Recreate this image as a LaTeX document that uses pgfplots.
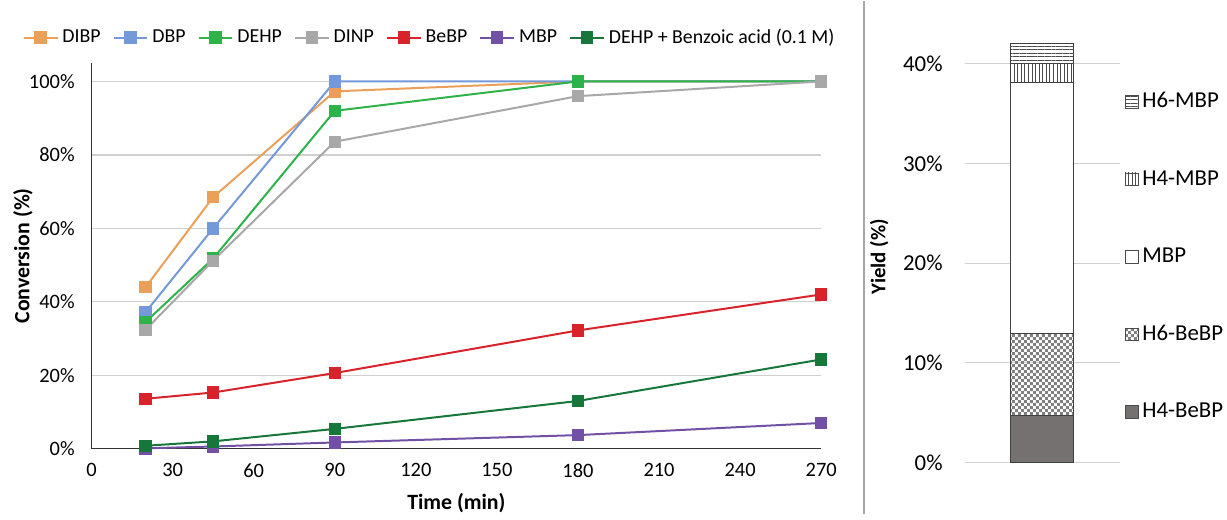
\documentclass[border=0pt]{standalone}
\usepackage{pgfplots}
\pgfplotsset{compat=1.18}
\usepackage{fontspec}
\setmainfont{Carlito}
\usetikzlibrary{patterns,patterns.meta}
\definecolor{cDIBP}{HTML}{EBA05A}
\definecolor{cDBP}{HTML}{7499D8}
\definecolor{cDEHP}{HTML}{2DB34A}
\definecolor{cDINP}{HTML}{A8A8A8}
\definecolor{cBeBP}{HTML}{D9232B}
\definecolor{cMBP}{HTML}{7150A6}
\definecolor{cBA}{HTML}{17763A}
\definecolor{gridc}{HTML}{D0D0D0}
\definecolor{dkgray}{HTML}{767171}
\pgfdeclarepatternformonly{mycheck}{\pgfqpoint{0bp}{0bp}}{\pgfqpoint{3bp}{3bp}}{\pgfqpoint{3bp}{3bp}}{%
  \pgfpathrectangle{\pgfqpoint{0bp}{0bp}}{\pgfqpoint{1.5bp}{1.5bp}}%
  \pgfpathrectangle{\pgfqpoint{1.5bp}{1.5bp}}{\pgfqpoint{1.5bp}{1.5bp}}%
  \pgfusepath{fill}}
\begin{document}
\begin{tikzpicture}
\path (0,0) rectangle (613.5bp,258bp);
\draw[gray!70, line width=0.8bp] (434bp,0) -- (434bp,258bp);
\begin{axis}[
  at={(46bp,33bp)}, anchor=south west,
  scale only axis, width=366.5bp, height=193.7bp,
  xmin=0, xmax=270, ymin=0, ymax=105,
  xtick={0,30,...,270}, ytick={0,20,...,100},
  yticklabels={0\%,20\%,40\%,60\%,80\%,100\%},
  axis x line*=bottom, axis y line*=left,
  axis line style={black!80, -},
  major tick length=0,
  ymajorgrids, grid style={gridc, line width=0.6bp},
  /pgf/number format/assume math mode=true,
  tick label style={font=\fontsize{10.3}{12}\selectfont},
  yticklabel style={xshift=-5bp},
  xticklabel style={yshift=-4bp},
  xlabel={\textbf{Time (min)}}, ylabel={\textbf{Conversion (\%)}},
  label style={font=\fontsize{11}{13}\selectfont},
  xlabel style={at={(axis description cs:0.5,-0.14)}, anchor=center},
  ylabel style={at={(axis description cs:-0.094,0.5)}, anchor=center},
  every axis plot/.append style={line width=1bp, mark=square*, mark size=2.6bp},
  legend columns=7,
  legend style={at={(axis description cs:-0.095,1.10)}, anchor=north west, draw=none, fill=none,
    font=\fontsize{10}{12}\selectfont, /tikz/every even column/.append style={column sep=4bp},
    inner sep=0pt},
  legend cell align=left,
  clip=false,
]
\addplot[color=cDIBP] coordinates {(20,44) (45,68.5) (90,97.3) (180,100) (270,100)};
\addlegendentry{DIBP}
\addplot[color=cDBP] coordinates {(20,37.2) (45,60) (90,100) (180,100) (270,100)};
\addlegendentry{DBP}
\addplot[color=cDEHP] coordinates {(20,34.5) (45,51.8) (90,92) (180,100) (270,100)};
\addlegendentry{DEHP}
\addplot[color=cDINP] coordinates {(20,32.4) (45,51.2) (90,83.6) (180,96) (270,100)};
\addlegendentry{DINP}
\addplot[color=cBeBP] coordinates {(20,13.6) (45,15.3) (90,20.6) (180,32.2) (270,42)};
\addlegendentry{BeBP}
\addplot[color=cMBP] coordinates {(20,0.1) (45,0.6) (90,1.7) (180,3.7) (270,7)};
\addlegendentry{MBP}
\addplot[color=cBA] coordinates {(20,0.8) (45,2) (90,5.4) (180,13) (270,24.3)};
\addlegendentry{DEHP + Benzoic acid (0.1 M)}
\end{axis}
\begin{axis}[
  at={(484.5bp,26bp)}, anchor=south west,
  scale only axis, width=78bp, height=215.5bp,
  xmin=0, xmax=1, ymin=0, ymax=43,
  ybar stacked, bar width=31.5bp,
  xtick=\empty, ytick={0,10,...,40},
  yticklabels={0\%,10\%,20\%,30\%,40\%},
  axis line style={draw=none},
  major tick length=0,
  ymajorgrids, grid style={gridc, line width=0.6bp},
  tick label style={font=\fontsize{11.5}{13}\selectfont},
  yticklabel style={xshift=-7.5bp},
  ylabel={\textbf{Yield (\%)}},
  ylabel style={at={(axis description cs:-0.55,0.48)}, anchor=center, font=\fontsize{10.5}{12}\selectfont},
  clip=false,
  reverse legend,
  legend cell align=left,
  legend style={at={(axis description cs:1.03,0.873)}, anchor=north west, draw=none, fill=none,
    font=\fontsize{11.5}{13}\selectfont, row sep=26bp, inner sep=0pt},
  legend image code/.code={\draw[#1, draw=black!70, line width=0.4bp] (0bp,-3.2bp) rectangle (6.4bp,3.2bp);},
  every axis plot/.append style={draw=black!75, line width=0.5bp},
]
\addplot[fill=dkgray] coordinates {(0.5,4.7)};
\addlegendentry{H4-BeBP}
\addplot[pattern=mycheck, pattern color=black!50] coordinates {(0.5,8.2)};
\addlegendentry{H6-BeBP}
\addplot[fill=white] coordinates {(0.5,25.2)};
\addlegendentry{MBP}
\addplot[pattern={Lines[angle=90,distance=1.8bp,line width=0.5bp]}, pattern color=black!70] coordinates {(0.5,1.9)};
\addlegendentry{H4-MBP}
\addplot[pattern={Lines[angle=0,distance=1.8bp,line width=0.5bp]}, pattern color=black!70] coordinates {(0.5,2.0)};
\addlegendentry{H6-MBP}
\end{axis}
\end{tikzpicture}
\end{document}
